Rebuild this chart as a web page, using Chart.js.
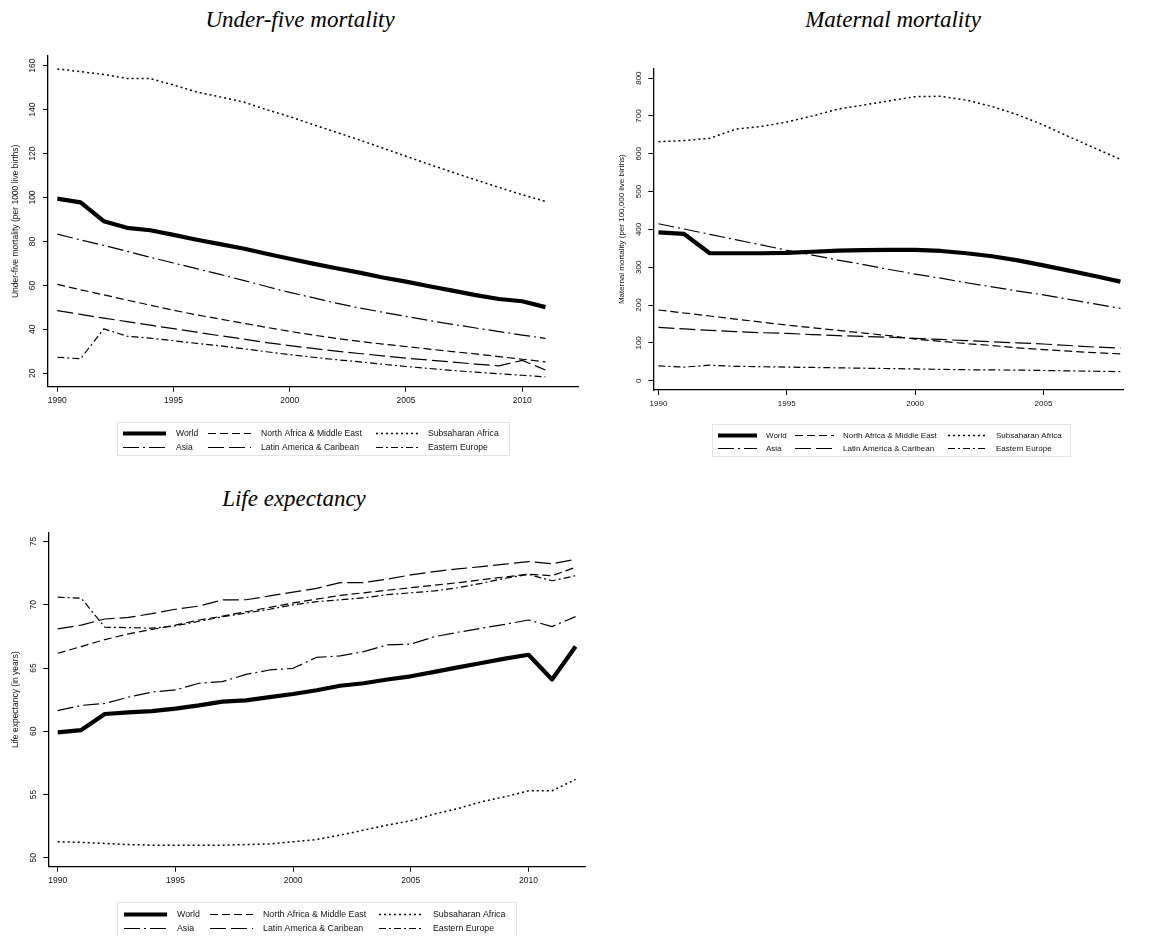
<!DOCTYPE html>
<html>
<head>
<meta charset="utf-8">
<script src="https://cdn.jsdelivr.net/npm/chart.js@4.4.1/dist/chart.umd.min.js"></script>
<style>
  html, body { margin: 0; padding: 0; background: #fff; }
  body { width: 1166px; height: 936px; position: relative; overflow: hidden; }
  .panel { position: absolute; }
  .title {
    position: absolute; width: 400px; text-align: center;
    font-family: "Liberation Serif", "Times New Roman", serif; font-style: italic;
    font-size: 23px; line-height: 23px; color: #000; white-space: nowrap;
  }
</style>
</head>
<body>
<div class="title" style="left:100px;top:8px">Under-five mortality</div>
<div class="title" style="left:693px;top:8px">Maternal mortality</div>
<div class="title" style="left:94px;top:487px">Life expectancy</div>

<canvas id="u5" class="panel" width="590" height="460" style="left:0;top:0"></canvas>
<canvas id="mm" class="panel" width="583" height="460" style="left:583px;top:0"></canvas>
<canvas id="le" class="panel" width="590" height="466" style="left:0;top:470px"></canvas>

<script>
// ---- Under-five mortality (per 1000 live births) ----
const u5Years = [1990, 1991, 1992, 1993, 1994, 1995, 1996, 1997, 1998, 1999, 2000,
                 2001, 2002, 2003, 2004, 2005, 2006, 2007, 2008, 2009, 2010, 2011];
const u5World    = [99.5, 97.8, 89.2, 86.2, 85.1, 83.0, 80.8, 78.8, 76.8, 74.4, 72.1, 69.9, 67.8, 65.8, 63.6, 61.7, 59.6, 57.6, 55.6, 53.8, 52.8, 50.1];
const u5NAfrica  = [60.5, 58.0, 55.7, 53.3, 51.0, 48.7, 46.6, 44.7, 42.8, 40.9, 39.1, 37.4, 35.9, 34.5, 33.3, 32.2, 31.0, 29.9, 28.8, 27.6, 26.4, 25.2];
const u5SubSah   = [158.5, 157.3, 156.0, 154.2, 154.1, 151.2, 148.0, 145.8, 143.5, 140.0, 136.8, 133.2, 129.7, 126.2, 122.5, 118.8, 115.1, 111.5, 108.0, 104.6, 101.3, 98.2];
const u5Asia     = [83.3, 80.7, 78.2, 75.5, 72.8, 70.2, 67.6, 65.0, 62.3, 59.5, 56.8, 54.4, 51.9, 49.7, 47.8, 45.9, 44.0, 42.3, 40.6, 39.0, 37.4, 35.9];
const u5LatAm    = [48.5, 46.8, 45.1, 43.5, 41.9, 40.3, 38.7, 37.1, 35.6, 34.0, 32.6, 31.3, 30.1, 29.0, 27.9, 26.9, 26.0, 25.1, 24.2, 23.4, 25.9, 21.5];
const u5EEurope  = [27.3, 26.6, 40.2, 36.9, 36.0, 34.8, 33.6, 32.5, 31.2, 29.8, 28.5, 27.3, 26.2, 25.2, 24.1, 23.1, 22.2, 21.3, 20.5, 19.8, 19.1, 18.4];
const u5YTicks   = [20, 40, 60, 80, 100, 120, 140, 160];
const u5XTicks   = [1990, 1995, 2000, 2005, 2010];

// ---- Maternal mortality (per 100,000 live births) ----
const mmYears = [1990, 1991, 1992, 1993, 1994, 1995, 1996, 1997, 1998, 1999,
                 2000, 2001, 2002, 2003, 2004, 2005, 2006, 2007, 2008];
const mmWorld    = [392, 388, 337, 337, 337, 338, 341, 344, 345, 346, 346, 343, 337, 329, 318, 305, 291, 277, 262];
const mmNAfrica  = [187, 179, 171, 163, 155, 147, 140, 133, 126, 119, 110, 104, 98, 93, 87, 82, 78, 74, 71];
const mmSubSah   = [632, 635, 641, 665, 672, 684, 700, 718, 729, 740, 751, 752, 742, 725, 703, 676, 645, 615, 585];
const mmAsia     = [415, 401, 387, 373, 359, 345, 332, 319, 307, 294, 282, 271, 259, 248, 237, 227, 215, 203, 191];
const mmLatAm    = [141, 137, 133, 130, 127, 125, 122, 119, 117, 115, 112, 109, 106, 103, 100, 97, 93, 89, 86];
const mmEEurope  = [39, 36, 41, 38, 37, 36, 35, 34, 33, 32, 31, 30, 29, 28.5, 28, 27, 26, 25, 24];
const mmYTicks   = [0, 100, 200, 300, 400, 500, 600, 700, 800];
const mmXTicks   = [1990, 1995, 2000, 2005];

// ---- Life expectancy (in years) ----
const leYears = [1990, 1991, 1992, 1993, 1994, 1995, 1996, 1997, 1998, 1999, 2000, 2001,
                 2002, 2003, 2004, 2005, 2006, 2007, 2008, 2009, 2010, 2011, 2012];
const leWorld    = [59.92, 60.1, 61.37, 61.5, 61.6, 61.8, 62.05, 62.35, 62.45, 62.7, 62.95, 63.25, 63.6, 63.8, 64.1, 64.35, 64.7, 65.05, 65.4, 65.75, 66.05, 64.1, 66.7];
const leNAfrica  = [66.17, 66.7, 67.25, 67.7, 68.05, 68.4, 68.8, 69.1, 69.45, 69.8, 70.15, 70.45, 70.75, 70.95, 71.15, 71.35, 71.55, 71.75, 71.98, 72.2, 72.42, 72.3, 72.97];
const leSubSah   = [51.27, 51.22, 51.14, 51.05, 51.0, 51.0, 51.0, 51.0, 51.05, 51.1, 51.27, 51.45, 51.8, 52.19, 52.59, 52.93, 53.46, 53.9, 54.43, 54.83, 55.3, 55.3, 56.2];
const leAsia     = [61.63, 62.05, 62.2, 62.7, 63.1, 63.27, 63.8, 63.93, 64.5, 64.85, 64.98, 65.85, 65.96, 66.3, 66.83, 66.9, 67.48, 67.83, 68.15, 68.46, 68.8, 68.28, 69.07];
const leLatAm    = [68.1, 68.4, 68.88, 69.0, 69.3, 69.65, 69.9, 70.39, 70.4, 70.7, 71.0, 71.3, 71.76, 71.76, 72.02, 72.37, 72.63, 72.84, 73.02, 73.21, 73.42, 73.24, 73.6];
const leEEurope  = [70.6, 70.52, 68.23, 68.2, 68.15, 68.33, 68.7, 69.05, 69.35, 69.65, 70.0, 70.25, 70.4, 70.55, 70.8, 70.95, 71.1, 71.35, 71.7, 72.1, 72.4, 71.9, 72.3];
const leYTicks   = [50, 55, 60, 65, 70, 75];
const leXTicks   = [1990, 1995, 2000, 2005, 2010];

const regionNames = ['World', 'North Africa & Middle East', 'Subsaharan Africa',
                     'Asia', 'Latin America & Caribean', 'Eastern Europe'];

// line look for each region, in the same order as regionNames
const regionStyles = [
  { borderWidth: 4.2, borderDash: [] },
  { borderWidth: 1.2, borderDash: [8, 4] },
  { borderWidth: 1.5, borderDash: [2, 3] },
  { borderWidth: 1.2, borderDash: [16, 4, 2, 4] },
  { borderWidth: 1.2, borderDash: [16, 5] },
  { borderWidth: 1.2, borderDash: [7, 3, 2, 3] }
];

const AXIS_FONT = 'Liberation Sans, Arial, Helvetica, sans-serif';

function makeDatasets(years, seriesList) {
  return seriesList.map((vals, i) => ({
    label: regionNames[i],
    data: years.map((yr, k) => ({ x: yr, y: vals[k] })),
    borderColor: '#000',
    backgroundColor: '#000',
    borderWidth: regionStyles[i].borderWidth,
    borderDash: regionStyles[i].borderDash,
    borderCapStyle: 'butt',
    borderJoinStyle: 'round',
    pointRadius: 0,
    pointHoverRadius: 0,
    fill: false,
    tension: 0
  }));
}

// Two-row, three-column legend inside a light frame under each plot
const panelLegend = {
  id: 'panelLegend',
  afterDraw(chart, args, o) {
    const ctx = chart.ctx;
    ctx.save();
    ctx.fillStyle = '#fff';
    ctx.fillRect(o.x, o.y, o.w, o.h);
    ctx.strokeStyle = '#e4e4e4';
    ctx.lineWidth = 1;
    ctx.strokeRect(o.x + 0.5, o.y + 0.5, o.w, o.h);
    chart.data.datasets.forEach((ds, i) => {
      const col = i % 3, row = Math.floor(i / 3);
      const y = Math.round(o.rows[row]) + 0.5;
      const x0 = o.lineX[col];
      ctx.setLineDash(ds.borderDash || []);
      ctx.lineWidth = ds.borderWidth;
      ctx.strokeStyle = ds.borderColor;
      ctx.lineCap = 'butt';
      ctx.beginPath();
      ctx.moveTo(x0, y);
      ctx.lineTo(x0 + o.len, y);
      ctx.stroke();
      ctx.setLineDash([]);
      ctx.fillStyle = '#111';
      ctx.font = o.fontSize + 'px ' + AXIS_FONT;
      ctx.textBaseline = 'middle';
      ctx.textAlign = 'left';
      ctx.fillText(ds.label, o.textX[col], y);
    });
    ctx.restore();
  }
};

function buildChart(id, cfg) {
  const tickFont = { family: AXIS_FONT, size: cfg.fontSize };
  return new Chart(document.getElementById(id), {
    type: 'line',
    data: { datasets: makeDatasets(cfg.years, cfg.series) },
    plugins: [panelLegend],
    options: {
      responsive: false,
      animation: false,
      events: [],
      layout: { padding: cfg.padding },
      plugins: {
        legend: { display: false },
        tooltip: { enabled: false },
        title: { display: false },
        panelLegend: cfg.legend
      },
      scales: {
        x: {
          type: 'linear',
          min: cfg.xMin, max: cfg.xMax,
          afterBuildTicks: s => { s.ticks = cfg.xTicks.map(v => ({ value: v })); },
          afterFit: s => { s.height = cfg.xAxisHeight; },
          ticks: {
            font: tickFont, color: '#111', padding: cfg.xTickPad,
            maxRotation: 0, minRotation: 0,
            callback: v => String(v)
          },
          grid: { display: true, drawOnChartArea: false, drawTicks: true,
                  tickLength: 5, color: '#000', lineWidth: 1 },
          border: { display: true, color: '#000', width: 1.3 }
        },
        y: {
          type: 'linear',
          min: cfg.yMin, max: cfg.yMax,
          afterBuildTicks: s => { s.ticks = cfg.yTicks.map(v => ({ value: v })); },
          afterFit: s => { s.width = cfg.yAxisWidth; },
          ticks: {
            font: tickFont, color: '#111', padding: cfg.yTickPad,
            minRotation: 90, maxRotation: 90, crossAlign: 'center',
            callback: v => String(v)
          },
          title: {
            display: true, text: cfg.yTitle, color: '#111',
            font: { family: AXIS_FONT, size: cfg.fontSize },
            padding: { top: cfg.yTitlePad, bottom: 0 }
          },
          grid: { display: true, drawOnChartArea: false, drawTicks: true,
                  tickLength: 5, color: '#000', lineWidth: 1 },
          border: { display: true, color: '#000', width: 1.3 }
        }
      }
    }
  });
}

buildChart('u5', {
  years: u5Years,
  series: [u5World, u5NAfrica, u5SubSah, u5Asia, u5LatAm, u5EEurope],
  xMin: 1989.6, xMax: 2012.4, xTicks: u5XTicks,
  yMin: 13.9, yMax: 164.4, yTicks: u5YTicks,
  yTitle: 'Under-five mortality (per 1000 live births)',
  fontSize: 8.5,
  padding: { left: 0, right: 12, top: 56, bottom: 48.3 },
  xAxisHeight: 25, yAxisWidth: 48,
  xTickPad: 3.8, yTickPad: 3.2, yTitlePad: 10.6,
  legend: { x: 117, y: 422, w: 392, h: 33, rows: [433.3, 446.7],
            lineX: [123, 208, 376], textX: [176, 261, 428], len: 43, fontSize: 8.6 }
});

buildChart('mm', {
  years: mmYears,
  series: [mmWorld, mmNAfrica, mmSubSah, mmAsia, mmLatAm, mmEEurope],
  xMin: 1989.8, xMax: 2008.1, xTicks: mmXTicks,
  yMin: -24.6, yMax: 826, yTicks: mmYTicks,
  yTitle: 'Maternal mortality (per 100,000 live births)',
  fontSize: 8,
  padding: { left: 0, right: 43, top: 68.3, bottom: 45 },
  xAxisHeight: 25, yAxisWidth: 70.3,
  xTickPad: 4, yTickPad: 2.6, yTitlePad: 34.2,
  legend: { x: 129, y: 424, w: 358, h: 32, rows: [435, 448.3],
            lineX: [135, 212, 365], textX: [183, 260, 413], len: 39, fontSize: 8 }
});

buildChart('le', {
  years: leYears,
  series: [leWorld, leNAfrica, leSubSah, leAsia, leLatAm, leEEurope],
  xMin: 1989.6, xMax: 2012.4, xTicks: leXTicks,
  yMin: 49.3, yMax: 75.7, yTicks: leYTicks,
  yTitle: 'Life expectancy (in years)',
  fontSize: 8.5,
  padding: { left: 0, right: 5, top: 62.7, bottom: 44.3 },
  xAxisHeight: 25, yAxisWidth: 48.3,
  xTickPad: 4, yTickPad: 5.3, yTitlePad: 10.6,
  legend: { x: 117, y: 432, w: 399, h: 40, rows: [444, 457.7],
            lineX: [124, 210, 379], textX: [177, 263, 433], len: 43, fontSize: 8.8 }
});
</script>
</body>
</html>
